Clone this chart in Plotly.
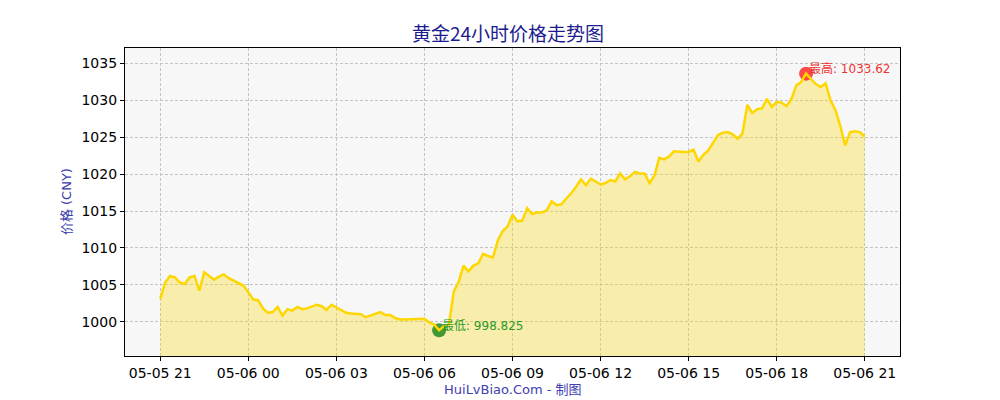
import pandas as pd
import plotly.graph_objects as go

# gold price, one reading every 10 minutes from 05-05 21:00 to 05-06 21:00
start_time = "2024-05-05 21:00"
prices = [
    1003.1, 1005.3, 1006.2, 1006.0, 1005.3, 1005.1, 1006.0, 1006.2, 1004.2, 1006.7,
    1006.2, 1005.7, 1006.1, 1006.4, 1005.9, 1005.6, 1005.3, 1004.9, 1004.0, 1003.0,
    1002.9, 1001.8, 1001.2, 1001.3, 1002.0, 1000.8, 1001.7, 1001.5, 1002.0, 1001.7,
    1001.8, 1002.1, 1002.3, 1002.1, 1001.6, 1002.3, 1001.9, 1001.5, 1001.2, 1001.1,
    1001.1, 1001.0, 1000.6, 1000.8, 1001.1, 1001.3, 1000.9, 1000.9, 1000.5, 1000.3,
    1000.3, 1000.3, 1000.3, 1000.3, 1000.4, 999.9, 999.6, 998.825, 999.4, 999.6,
    1004.1, 1005.4, 1007.6, 1006.8, 1007.6, 1007.9, 1009.2, 1008.9, 1008.7, 1011.0,
    1012.3, 1012.9, 1014.5, 1013.6, 1013.7, 1015.4, 1014.6, 1014.8, 1014.8, 1015.1,
    1016.3, 1015.8, 1015.9, 1016.7, 1017.4, 1018.3, 1019.3, 1018.5, 1019.4, 1019.0,
    1018.6, 1018.8, 1019.2, 1019.0, 1020.1, 1019.3, 1019.7, 1020.3, 1020.1, 1020.1,
    1018.8, 1019.8, 1022.2, 1022.0, 1022.4, 1023.1, 1023.0, 1023.0, 1023.0, 1023.3,
    1021.7, 1022.6, 1023.2, 1024.2, 1025.3, 1025.6, 1025.7, 1025.4, 1024.8, 1025.5,
    1029.4, 1028.3, 1028.8, 1028.9, 1030.2, 1029.1, 1029.8, 1029.7, 1029.2, 1030.2,
    1032.0, 1032.5, 1033.62, 1032.9, 1032.2, 1031.8, 1032.3, 1030.0, 1028.7, 1026.5,
    1023.9, 1025.7, 1025.8, 1025.7, 1025.1,
]

title = "黄金24小时价格走势图"
y_label = "价格 (CNY)"
footer = "HuiLvBiao.Com - 制图"

times = pd.date_range(start_time, periods=len(prices), freq="10min")
s = pd.Series(prices, index=times)
t_max, p_max = s.idxmax(), s.max()
t_min, p_min = s.idxmin(), s.min()

span = p_max - p_min
pad = pd.Timedelta(hours=1.2)

cjk = "Noto Sans CJK SC"
mixed = "DejaVu Sans, Noto Sans CJK SC"

fig = go.Figure()

# filled area under the line
fig.add_trace(go.Scatter(x=times, y=prices, mode="lines", line=dict(width=0),
                         fill="tozeroy", fillcolor="rgba(255,215,0,0.3)",
                         hoverinfo="skip", showlegend=False))

# high / low markers (drawn below the line)
fig.add_trace(go.Scatter(x=[t_max], y=[p_max], mode="markers",
                         marker=dict(size=14, color="rgba(255,30,30,0.8)"),
                         showlegend=False))
fig.add_trace(go.Scatter(x=[t_min], y=[p_min], mode="markers",
                         marker=dict(size=14, color="rgba(20,130,20,0.8)"),
                         showlegend=False))

fig.add_trace(go.Scatter(x=times, y=prices, mode="lines",
                         line=dict(color="#FFD700", width=2.5),
                         showlegend=False))

fig.add_annotation(x=t_max, y=p_max, text=f"最高: {p_max:g}", showarrow=False,
                   xanchor="left", yanchor="middle", xshift=1, yshift=5,
                   font=dict(family=mixed, size=12, color="#ee3333"))
fig.add_annotation(x=t_min, y=p_min, text=f"最低: {p_min:g}", showarrow=False,
                   xanchor="left", yanchor="middle", xshift=1, yshift=4,
                   font=dict(family=mixed, size=12, color="#2a9a2a"))

fig.add_annotation(xref="paper", yref="paper", x=-0.076, y=0.5, text=y_label,
                   textangle=-90, showarrow=False, xanchor="center", yanchor="middle",
                   font=dict(family=mixed, size=13, color="#3a3aaa"))
fig.add_annotation(xref="paper", yref="paper", x=0.5, y=-0.11, text=footer,
                   showarrow=False, xanchor="center", yanchor="middle",
                   font=dict(family=mixed, size=13, color="#4040b0"))

fig.update_layout(
    width=1000, height=400,
    margin=dict(l=117, r=108, t=40, b=52),
    paper_bgcolor="white", plot_bgcolor="#f7f7f7",
    title=dict(text=title, x=0.5, xanchor="center", y=0.935, yanchor="middle",
               font=dict(family=cjk, size=19, color="#1c1c90")),
    font=dict(family="DejaVu Sans", size=14, color="black"),
)

fig.update_xaxes(range=[times[0] - pad, times[-1] + pad], dtick=3 * 3600 * 1000,
                 tick0=start_time, tickformat="%m-%d %H",
                 showgrid=True, gridcolor="#c4c4c4", griddash="3px,2px", gridwidth=0.8,
                 showline=True, linecolor="black", linewidth=1.2, mirror=True,
                 ticks="outside", ticklen=4, tickcolor="black", zeroline=False)
fig.update_yaxes(range=[p_min - 0.1 * span, p_max + 0.1 * span], dtick=5,
                 showgrid=True, gridcolor="#c4c4c4", griddash="3px,2px", gridwidth=0.8,
                 showline=True, linecolor="black", linewidth=1.2, mirror=True,
                 ticks="outside", ticklen=4, tickcolor="black", zeroline=False)

fig.write_html("out.html")
